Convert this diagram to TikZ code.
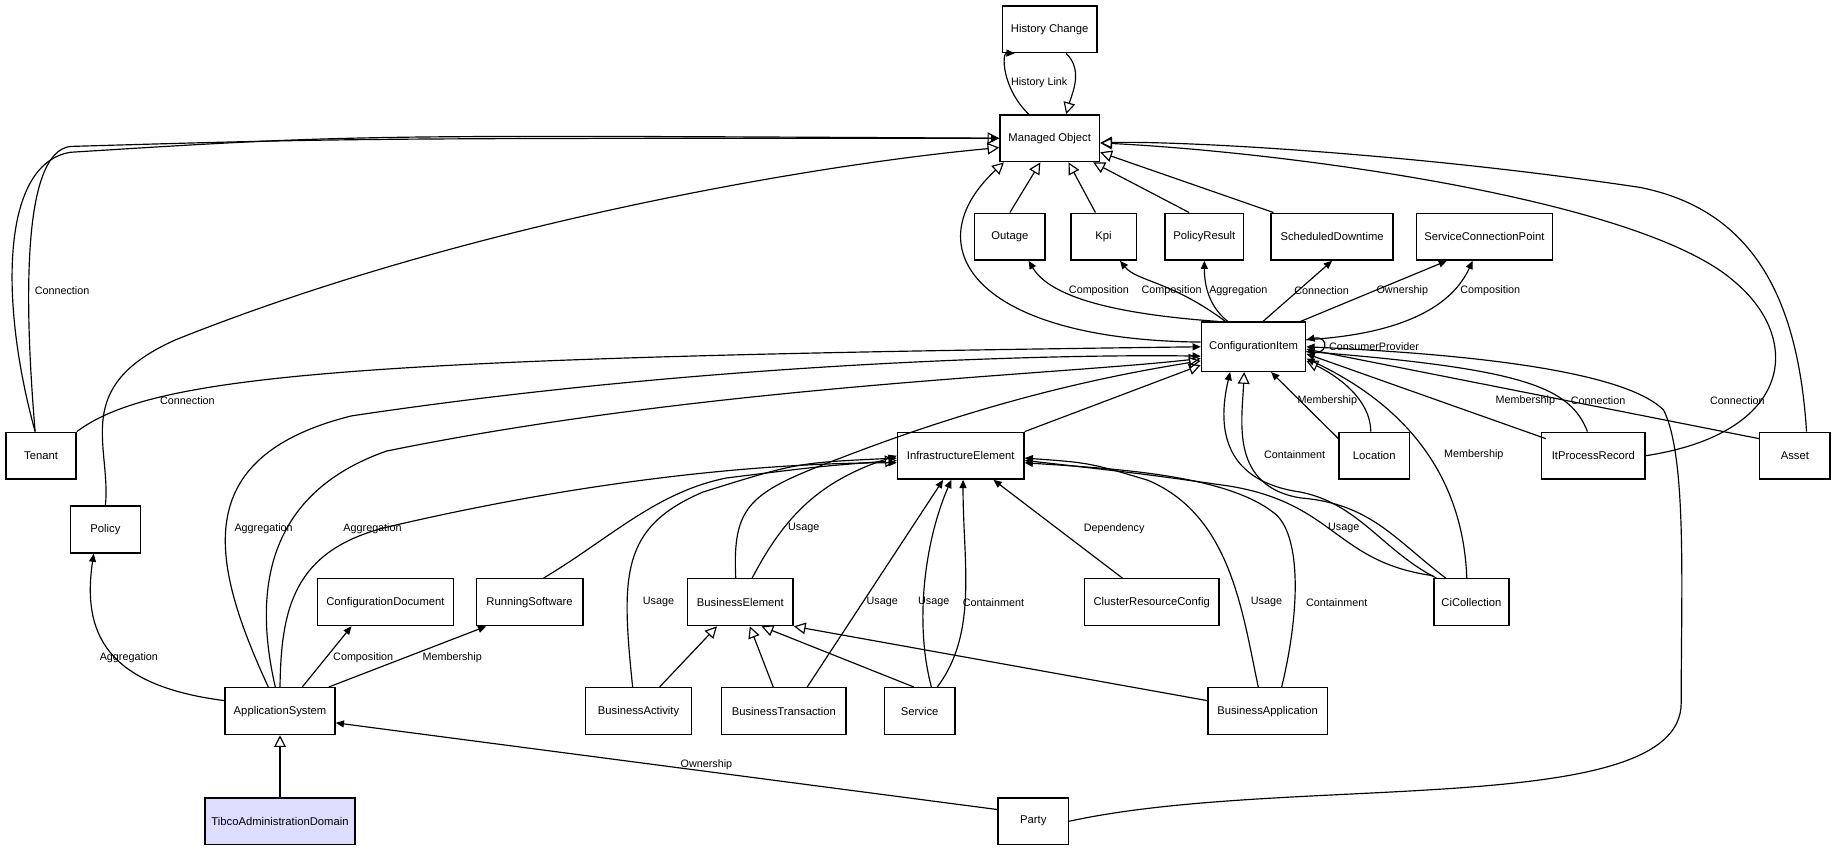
\documentclass[tikz,border=0pt]{standalone}
\usepackage{fontspec}
\setmainfont{Liberation Sans}
\usetikzlibrary{arrows.meta,calc}
\begin{document}
\begin{tikzpicture}[x=0.5pt,y=-0.5pt,line width=0.5pt,
 box/.style={draw,line width=0.6pt,minimum height=20pt,inner sep=0pt,font=\fontsize{4.8}{5}\selectfont},
 assoc/.style={-{Triangle[length=3.5pt,width=3pt]}},
 gen/.style={-{Triangle[open,length=5pt,width=5pt]}},
 lbl/.style={font=\fontsize{4.6}{5}\selectfont,inner sep=0.5pt}]
\useasboundingbox (0,0) rectangle (1568,727);
\node[box,minimum width=40.5pt] (hc) at (896,25) {History Change};
\node[box,minimum width=42.5pt] (mo) at (896,118) {Managed Object};
\node[box,minimum width=30pt] (out) at (862,202) {Outage};
\node[box,minimum width=28pt] (kpi) at (942,202) {Kpi};
\node[box,minimum width=33.5pt] (pr) at (1028,202) {PolicyResult};
\node[box,minimum width=52pt] (sd) at (1137,202) {ScheduledDowntime};
\node[box,minimum width=58pt] (scp) at (1267,202) {ServiceConnectionPoint};
\node[box,minimum width=44.5pt,minimum height=21pt] (ci) at (1070,296) {ConfigurationItem};
\node[box,minimum width=30pt] (ten) at (35,389) {Tenant};
\node[box,minimum width=54pt] (ie) at (820,389) {InfrastructureElement};
\node[box,minimum width=30pt] (loc) at (1173,389) {Location};
\node[box,minimum width=44pt] (ipr) at (1360,389) {ItProcessRecord};
\node[box,minimum width=30pt] (ast) at (1532,389) {Asset};
\node[box,minimum width=30pt] (pol) at (90,452) {Policy};
\node[box,minimum width=58pt] (cd) at (329,514) {ConfigurationDocument};
\node[box,minimum width=45.5pt] (rs) at (452,514) {RunningSoftware};
\node[box,minimum width=45pt] (be) at (632,514) {BusinessElement};
\node[box,minimum width=57.5pt] (crc) at (983,514) {ClusterResourceConfig};
\node[box,minimum width=32pt] (cc) at (1256,514) {CiCollection};
\node[box,minimum width=47pt] (as) at (239,607) {ApplicationSystem};
\node[box,minimum width=45pt] (ba) at (545,607) {BusinessActivity};
\node[box,minimum width=53pt] (bt) at (669,607) {BusinessTransaction};
\node[box,minimum width=30pt] (svc) at (785,607) {Service};
\node[box,minimum width=51pt] (bap) at (1082,607) {BusinessApplication};
\node[box,minimum width=64pt,fill={rgb,255:red,221;green,221;blue,255}] (tad) at (239,701) {TibcoAdministrationDomain};
\node[box,minimum width=30pt] (par) at (882,701) {Party};
% history
\draw[assoc] ($(mo.north)+(-18,0)$) .. controls (855,75) and (855,45) .. ($(hc.south)+(-30,0)$);
\node[lbl] at (887,71) {History Link};
\draw[gen] ($(hc.south)+(14,0)$) .. controls (925,60) and (915,80) .. ($(mo.north)+(14,0)$);
% generalizations to MO
\draw[gen] (out.north) -- ($(mo.south)+(-8,0)$);
\draw[gen] ($(kpi.north)+(-7,0)$) -- ($(mo.south)+(16,0)$);
\draw[gen] ($(pr.north)+(-13,0)$) -- ($(mo.south east)+(-6,0)$);
\draw[gen] ($(sd.north)+(-50,0)$) -- ($(mo.east)+(0,12)$);
\draw[gen] ($(ci.west)+(0,-4)$) .. controls (830,290) and (780,210) .. ($(mo.south west)+(4,0)$);
\draw[gen] ($(ten.north)+(-5,0)$) .. controls (0,260) and (0,140) .. (60,130) .. controls (300,115) .. (mo.west);
\draw[assoc] ($(ten.north)+(-5,0)$) .. controls (20,250) and (20,130) .. (60,125) .. controls (300,118) .. (mo.west);
\node[lbl] at (53,248) {Connection};
\draw[gen] (pol.north) .. controls (95,380) and (60,330) .. (150,290) .. controls (400,190) and (700,140) .. ($(mo.west)+(0,8)$);
\draw[gen] (ipr.east) .. controls (1530,370) and (1540,290) .. (1480,240) .. controls (1400,170) and (1100,130) .. ($(mo.east)+(0,4)$);
\draw[gen] ($(ast.north)+(10,0)$) .. controls (1535,260) and (1500,180) .. (1400,160) .. controls (1200,130) and (1000,120) .. ($(mo.east)+(0,4)$);
% CI to top row
\draw[assoc] ($(ci.north)+(-30,0)$) .. controls (980,270) and (900,260) .. ($(out.south)+(16,0)$);
\node[lbl] at (938,248) {Composition};
\draw[assoc] ($(ci.north)+(-24,0)$) .. controls (1000,240) and (970,240) .. ($(kpi.south)+(14,0)$);
\node[lbl] at (1000,248) {Composition};
\draw[assoc] ($(ci.north)+(-22,0)$) .. controls (1030,260) and (1028,240) .. (pr.south);
\node[lbl] at (1057,248) {Aggregation};
\draw[assoc] ($(ci.north)+(8,0)$) -- (sd.south);
\node[lbl] at (1128,248) {Connection};
\draw[assoc] ($(ci.north)+(40,0)$) -- ($(scp.south)+(-32,0)$);
\node[lbl] at (1197,248) {Ownership};
\draw[assoc] ($(ci.east)+(0,-6)$) .. controls (1200,285) and (1240,260) .. ($(scp.south)+(-10,0)$);
\node[lbl] at (1272,248) {Composition};
\draw[assoc] ($(ci.east)+(0,4)$) .. controls (1135,306) and (1135,286) .. ($(ci.east)+(0,-6)$);
\node[lbl,anchor=west] at (1133,296) {ConsumerProvider};
% into CI
\draw[assoc] (ten.north east) .. controls (130,320) and (300,305) .. ($(ci.west)+(0,0)$);
\node[lbl] at (160,342) {Connection};
\draw[assoc] ($(as.north)+(-10,0)$) .. controls (180,480) and (160,390) .. (300,355) .. controls (600,310) and (900,302) .. ($(ci.west)+(0,8)$);
\node[lbl] at (225,451) {Aggregation};
\draw[gen] ($(as.north)+(-4,0)$) .. controls (215,500) and (230,420) .. (330,385) .. controls (600,330) and (900,320) .. ($(ci.west)+(0,10)$);
\draw[gen] (ie.north east) -- ($(ci.south west)+(0,-6)$);
\draw[gen] ($(be.north)+(-4,0)$) .. controls (625,430) and (640,420) .. (720,390) .. controls (850,340) and (950,320) .. ($(ci.west)+(0,12)$);
\draw[assoc] ($(loc.north west)+(0,6)$) -- ($(ci.south)+(15,0)$);
\node[lbl] at (1133,342) {Membership};
\draw[gen] ($(loc.north)+(-3,0)$) .. controls (1170,340) and (1140,320) .. ($(ci.east)+(0,12)$);
\draw[assoc] ($(ipr.north west)+(4,6)$) -- ($(ci.east)+(0,6)$);
\node[lbl] at (1302,342) {Membership};
\draw[assoc] ($(ipr.north)+(-5,0)$) .. controls (1340,330) and (1300,315) .. ($(ci.east)+(0,4)$);
\node[lbl] at (1364,342) {Connection};
\draw[assoc] ($(ast.north west)+(0,6)$) -- ($(ci.east)+(0,2)$);
\node[lbl] at (1483,342) {Connection};
\draw[assoc] (par.east) .. controls (1100,660) and (1435,700) .. (1435,600) .. controls (1435,500) and (1440,390) .. (1420,350) .. controls (1380,310) and (1200,300) .. ($(ci.east)+(0,0)$);
\draw[assoc] ($(cc.north)+(-30,0)$) .. controls (1180,470) and (1160,430) .. (1110,420) .. controls (1040,410) and (1040,360) .. ($(ci.south)+(-20,0)$);
\node[lbl] at (1105,388) {Containment};
\draw[gen] ($(cc.north)+(-22,0)$) .. controls (1190,460) and (1170,430) .. (1110,425) .. controls (1050,415) and (1060,360) .. ($(ci.south)+(-8,0)$);
\draw[assoc] ($(cc.north)+(-4,0)$) .. controls (1250,440) and (1230,360) .. ($(ci.east)+(0,10)$);
\node[lbl] at (1258,388) {Membership};
% into IE
\draw[assoc] ($(cc.north west)+(0,-2)$) .. controls (1140,480) and (1140,430) .. (1050,415) .. controls (980,405) .. ($(ie.east)+(0,4)$);
\node[lbl] at (1147,451) {Usage};
\draw[assoc] (as.north) .. controls (240,520) and (250,470) .. (330,450) .. controls (500,410) and (650,395) .. ($(ie.west)+(0,6)$);
\node[lbl] at (318,451) {Aggregation};
\draw[gen] ($(rs.north)+(12,0)$) .. controls (520,460) and (560,420) .. (620,408) .. controls (700,398) .. ($(ie.west)+(0,4)$);
\draw[assoc] ($(ba.north)+(-5,0)$) .. controls (530,490) and (530,450) .. (600,420) .. controls (680,395) .. ($(ie.west)+(0,2)$);
\node[lbl] at (562,514) {Usage};
\draw[assoc] ($(be.north)+(10,0)$) .. controls (670,440) and (700,410) .. (ie.west);
\node[lbl] at (686,451) {Usage};
\draw[assoc] ($(bt.north)+(20,0)$) -- ($(ie.south)+(-15,0)$);
\node[lbl] at (753,514) {Usage};
\draw[assoc] ($(svc.north)+(10,0)$) .. controls (780,530) and (790,460) .. ($(ie.south)+(-8,0)$);
\node[lbl] at (797,514) {Usage};
\draw[assoc] ($(svc.north)+(15,0)$) .. controls (835,540) and (822,480) .. ($(ie.south)+(2,0)$);
\node[lbl] at (848,514) {Containment};
\draw[assoc] ($(crc.north)+(-25,0)$) -- ($(ie.south)+(28,0)$);
\node[lbl] at (951,451) {Dependency};
\draw[assoc] ($(bap.north)+(-8,0)$) .. controls (1060,520) and (1050,440) .. (980,410) .. controls (930,395) .. ($(ie.east)+(0,2)$);
\node[lbl] at (1081,514) {Usage};
\draw[assoc] ($(bap.north)+(12,0)$) .. controls (1110,520) and (1110,460) .. (1090,440) .. controls (1050,405) and (950,400) .. ($(ie.east)+(0,6)$);
\node[lbl] at (1141,514) {Containment};
% into BE
\draw[gen] ($(ba.north)+(18,0)$) -- ($(be.south)+(-20,0)$);
\draw[gen] ($(bt.north)+(-9,0)$) -- ($(be.south)+(8,0)$);
\draw[gen] ($(svc.north)+(-5,0)$) -- ($(be.south)+(18,0)$);
\draw[gen] ($(bap.west)+(0,-9)$) -- (be.south east);
% from AS
\draw[assoc] ($(as.west)+(0,-9)$) .. controls (90,585) and (70,540) .. ($(pol.south)+(-10,0)$);
\node[lbl] at (110,561) {Aggregation};
\draw[assoc] ($(as.north)+(19,0)$) -- ($(cd.south)+(-29,0)$);
\node[lbl] at (310,561) {Composition};
\draw[assoc] ($(as.north east)+(-6,0)$) -- ($(rs.south)+(-37,0)$);
\node[lbl] at (386,561) {Membership};
\draw[gen] (tad.north) -- (as.south);
\draw[assoc] ($(par.west)+(0,-10)$) -- ($(as.east)+(0,10)$);
\node[lbl] at (603,653) {Ownership};
\end{tikzpicture}
\end{document}
